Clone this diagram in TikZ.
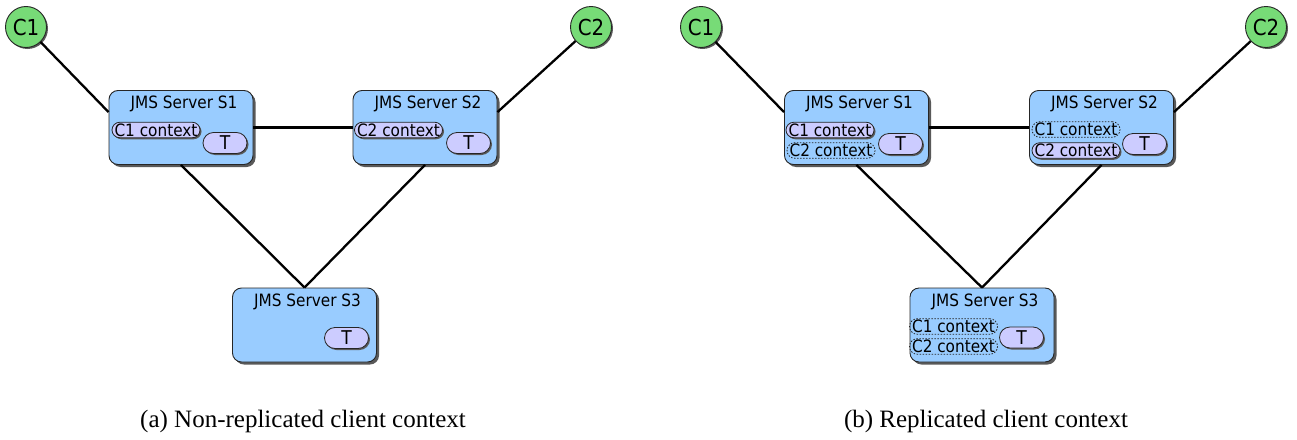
\documentclass[tikz,border=0pt]{standalone}
\usepackage{fontspec}
\setmainfont{Liberation Serif}
\newfontfamily\dvs{DejaVu Sans Condensed}
\usetikzlibrary{shadows,calc}
\definecolor{boxblue}{RGB}{153,204,255}
\definecolor{pillc}{RGB}{204,204,255}
\definecolor{cgreen}{RGB}{119,219,119}
\tikzset{
 shd/.style={drop shadow={shadow xshift=#1,shadow yshift=-#1,fill=black!65,opacity=1}},
 server/.style={draw=black!85, line width=0.9pt, fill=boxblue, rounded corners=9pt,
   minimum width=144pt, minimum height=74pt, inner sep=0pt, shd=2.5pt},
 title/.style={font=\dvs\fontsize{17}{20}\selectfont, inner sep=0pt},
 ctx/.style={draw=black!85, line width=0.8pt, fill=pillc, rounded corners=7.75pt,
   minimum width=88pt, minimum height=15.5pt, inner sep=0pt,
   font=\dvs\fontsize{17}{20}\selectfont, shd=1.5pt},
 ctxrep/.style={draw=black!85, line width=0.8pt, dash pattern=on 1.5pt off 1.5pt,
   rounded corners=7.75pt, minimum width=88pt, minimum height=15.5pt, inner sep=0pt,
   font=\dvs\fontsize{17}{20}\selectfont},
 topic/.style={draw=black!85, line width=0.8pt, fill=pillc, rounded corners=10.5pt,
   minimum width=44pt, minimum height=21pt, inner sep=0pt,
   font=\dvs\fontsize{19}{22}\selectfont, shd=1.5pt},
 client/.style={circle, draw=black!85, line width=0.9pt, fill=cgreen, minimum size=41pt,
   inner sep=0pt, font=\dvs\fontsize{22}{24}\selectfont, shd=1.5pt},
 link/.style={line width=2.3pt, black},
 captext/.style={font=\fontsize{25}{28}\selectfont, inner sep=0pt}
}
\begin{document}
\begin{tikzpicture}[x=1pt,y=-1pt]
\useasboundingbox (0,0) rectangle (1297,439);
% ---------- (a) ----------
\node[client] (aC1) at (26,27) {C1};
\node[client] (aC2) at (591,27) {C2};
\node[server] (aS1) at (181,127.5) {};
\node[server] (aS2) at (425,127.5) {};
\node[server] (aS3) at (304.5,325) {};
\node[title] (aS1t) at (184,104) {JMS Server S1};
\node[title] (aS2t) at (428,104) {JMS Server S2};
\node[title] (aS3t) at (307.5,301.5) {JMS Server S3};
\node[ctx] (aS1c1) at (156,130) {C1 context};
\node[ctx] (aS2c2) at (398.5,130) {C2 context};
\node[topic] (aS1T) at (225,143) {T};
\node[topic] (aS2T) at (468.5,143) {T};
\node[topic] (aS3T) at (346.5,338) {T};
\draw[link] (aC1) -- (aS1.168);
\draw[link] (aC2) -- (aS2.12);
\draw[link] (aS1.east) -- (aS2.west);
\draw[link] (aS1.south) -- (aS3.north);
\draw[link] (aS2.south) -- (aS3.north);
\node[captext] (capa) at (303,421) {(a) Non-replicated client context};
% ---------- (b) ----------
\node[client] (bC1) at (701,27) {C1};
\node[client] (bC2) at (1266,27) {C2};
\node[server] (bS1) at (856.5,127.5) {};
\node[server] (bS2) at (1101.5,127.5) {};
\node[server] (bS3) at (982,325) {};
\node[title] (bS1t) at (859.5,104) {JMS Server S1};
\node[title] (bS2t) at (1104.5,104) {JMS Server S2};
\node[title] (bS3t) at (985,301.5) {JMS Server S3};
\node[ctx] (bS1c1) at (830,130) {C1 context};
\node[ctxrep] (bS1c2) at (831,150.5) {C2 context};
\node[ctxrep] (bS2c1) at (1076,129.5) {C1 context};
\node[ctx] (bS2c2) at (1076,150.5) {C2 context};
\node[ctxrep] (bS3c1) at (953.5,326.5) {C1 context};
\node[ctxrep] (bS3c2) at (953.5,346.5) {C2 context};
\node[topic] (bS1T) at (900.5,144) {T};
\node[topic] (bS2T) at (1144.5,144) {T};
\node[topic] (bS3T) at (1021.5,337.5) {T};
\draw[link] (bC1) -- (bS1.168);
\draw[link] (bC2) -- (bS2.12);
\draw[link] (bS1.east) -- (bS2.west);
\draw[link] (bS1.south) -- (bS3.north);
\draw[link] (bS2.south) -- (bS3.north);
\node[captext] (capb) at (986,421) {(b) Replicated client context};
\end{tikzpicture}
\end{document}
